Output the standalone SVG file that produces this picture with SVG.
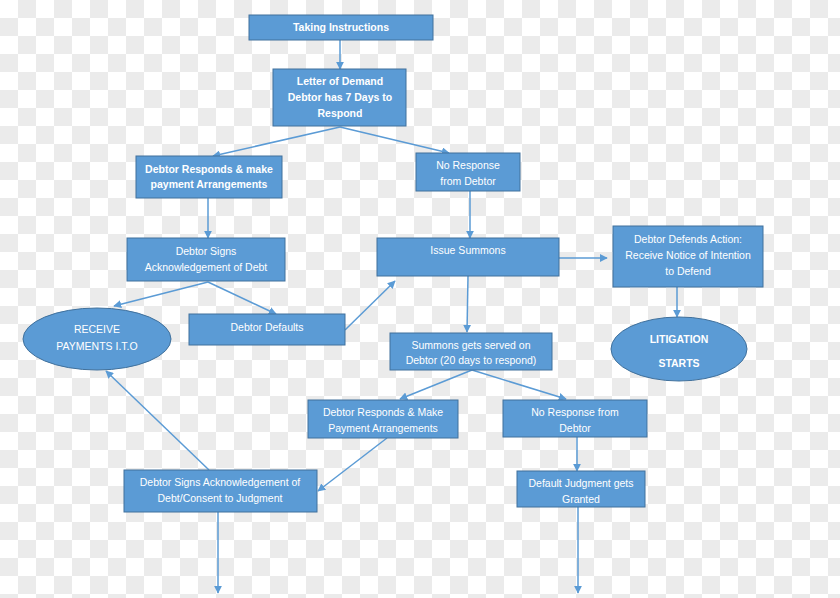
<svg xmlns="http://www.w3.org/2000/svg" width="840" height="598" viewBox="0 0 840 598">
<defs>
<pattern id="chk" x="0" y="0" width="36" height="36" patternUnits="userSpaceOnUse">
<rect width="36" height="36" fill="#ffffff"/>
<rect x="18" y="0" width="18" height="18" fill="#ebebeb"/>
<rect x="0" y="18" width="18" height="18" fill="#ebebeb"/>
</pattern>
<marker id="ah" viewBox="0 0 10 10" refX="9" refY="5" markerWidth="8" markerHeight="8" markerUnits="userSpaceOnUse" orient="auto">
<path d="M0,0 L10,5 L0,10 z" fill="#5b9bd5"/>
</marker>
</defs>
<style>
.box{fill:#5b9bd5;stroke:#41719c;stroke-width:1}
.t{font-family:"Liberation Sans",Arial,sans-serif;font-size:10.5px;fill:#ffffff;text-anchor:middle}
.b{font-weight:bold}
.c{stroke:#5b9bd5;stroke-width:1.5;fill:none;marker-end:url(#ah)}
</style>
<rect width="840" height="598" fill="url(#chk)"/>

<g id="connectors">
<line class="c" x1="340" y1="40" x2="340" y2="69"/>
<line class="c" x1="340" y1="127" x2="213" y2="156"/>
<line class="c" x1="340" y1="127" x2="449" y2="153"/>
<line class="c" x1="208" y1="198" x2="208" y2="238"/>
<line class="c" x1="470" y1="191" x2="470" y2="238"/>
<line class="c" x1="208" y1="282" x2="114" y2="306"/>
<line class="c" x1="208" y1="282" x2="276" y2="314"/>
<line class="c" x1="345" y1="330" x2="395" y2="281"/>
<line class="c" x1="559" y1="258" x2="607" y2="258"/>
<line class="c" x1="677" y1="287" x2="677" y2="317"/>
<line class="c" x1="468" y1="276" x2="467" y2="332"/>
<line class="c" x1="472" y1="370" x2="400" y2="399"/>
<line class="c" x1="472" y1="370" x2="566" y2="399"/>
<line class="c" x1="387" y1="438" x2="318" y2="491"/>
<line class="c" x1="577" y1="437" x2="577" y2="471"/>
<line class="c" x1="209" y1="470" x2="106" y2="371"/>
<line class="c" x1="218" y1="512" x2="218" y2="593"/>
<line class="c" x1="578" y1="507" x2="578" y2="593"/>
</g>

<g id="taking-instructions">
<rect class="box" x="249" y="15" width="184" height="25"/>
<text class="t b" x="341" y="31">Taking Instructions</text>
</g>

<g id="letter-of-demand">
<rect class="box" x="273" y="69" width="133" height="57"/>
<text class="t b" x="340" y="85">Letter of Demand</text>
<text class="t b" x="340" y="101">Debtor has 7 Days to</text>
<text class="t b" x="340" y="117">Respond</text>
</g>

<g id="debtor-responds-1">
<rect class="box" x="136" y="156" width="146" height="42"/>
<text class="t b" x="209" y="173">Debtor Responds &amp; make</text>
<text class="t b" x="209" y="188">payment Arrangements</text>
</g>

<g id="no-response-1">
<rect class="box" x="416" y="153" width="104" height="38"/>
<text class="t" x="468" y="169">No Response</text>
<text class="t" x="468" y="185">from Debtor</text>
</g>

<g id="debtor-signs-1">
<rect class="box" x="127" y="238" width="158" height="43"/>
<text class="t" x="206" y="255">Debtor Signs</text>
<text class="t" x="206" y="271">Acknowledgement of Debt</text>
</g>

<g id="issue-summons">
<rect class="box" x="377" y="238" width="182" height="38"/>
<text class="t" x="468" y="254">Issue Summons</text>
</g>

<g id="debtor-defends">
<rect class="box" x="613" y="226" width="150" height="61"/>
<text class="t" x="688" y="243">Debtor Defends Action:</text>
<text class="t" x="688" y="259">Receive Notice of Intention</text>
<text class="t" x="688" y="275">to Defend</text>
</g>

<g id="receive-payments">
<ellipse class="box" cx="97" cy="339" rx="74" ry="31"/>
<text class="t" x="97" y="333">RECEIVE</text>
<text class="t" x="97" y="350">PAYMENTS I.T.O</text>
</g>

<g id="debtor-defaults">
<rect class="box" x="189" y="314" width="156" height="31"/>
<text class="t" x="267" y="331">Debtor Defaults</text>
</g>

<g id="litigation-starts">
<ellipse class="box" cx="679" cy="349" rx="68" ry="32"/>
<text class="t b" x="679" y="343">LITIGATION</text>
<text class="t b" x="679" y="367">STARTS</text>
</g>

<g id="summons-served">
<rect class="box" x="390" y="333" width="162" height="37"/>
<text class="t" x="471" y="349">Summons gets served on</text>
<text class="t" x="471" y="364">Debtor (20 days to respond)</text>
</g>

<g id="debtor-responds-2">
<rect class="box" x="308" y="400" width="150" height="38"/>
<text class="t" x="383" y="416">Debtor Responds &amp; Make</text>
<text class="t" x="383" y="432">Payment Arrangements</text>
</g>

<g id="no-response-2">
<rect class="box" x="503" y="400" width="144" height="37"/>
<text class="t" x="575" y="416">No Response from</text>
<text class="t" x="575" y="432">Debtor</text>
</g>

<g id="debtor-signs-2">
<rect class="box" x="124" y="470" width="193" height="42"/>
<text class="t" x="220" y="486">Debtor Signs Acknowledgement of</text>
<text class="t" x="220" y="502">Debt/Consent to Judgment</text>
</g>

<g id="default-judgment">
<rect class="box" x="517" y="471" width="128" height="36"/>
<text class="t" x="581" y="487">Default Judgment gets</text>
<text class="t" x="581" y="503">Granted</text>
</g>
</svg>
